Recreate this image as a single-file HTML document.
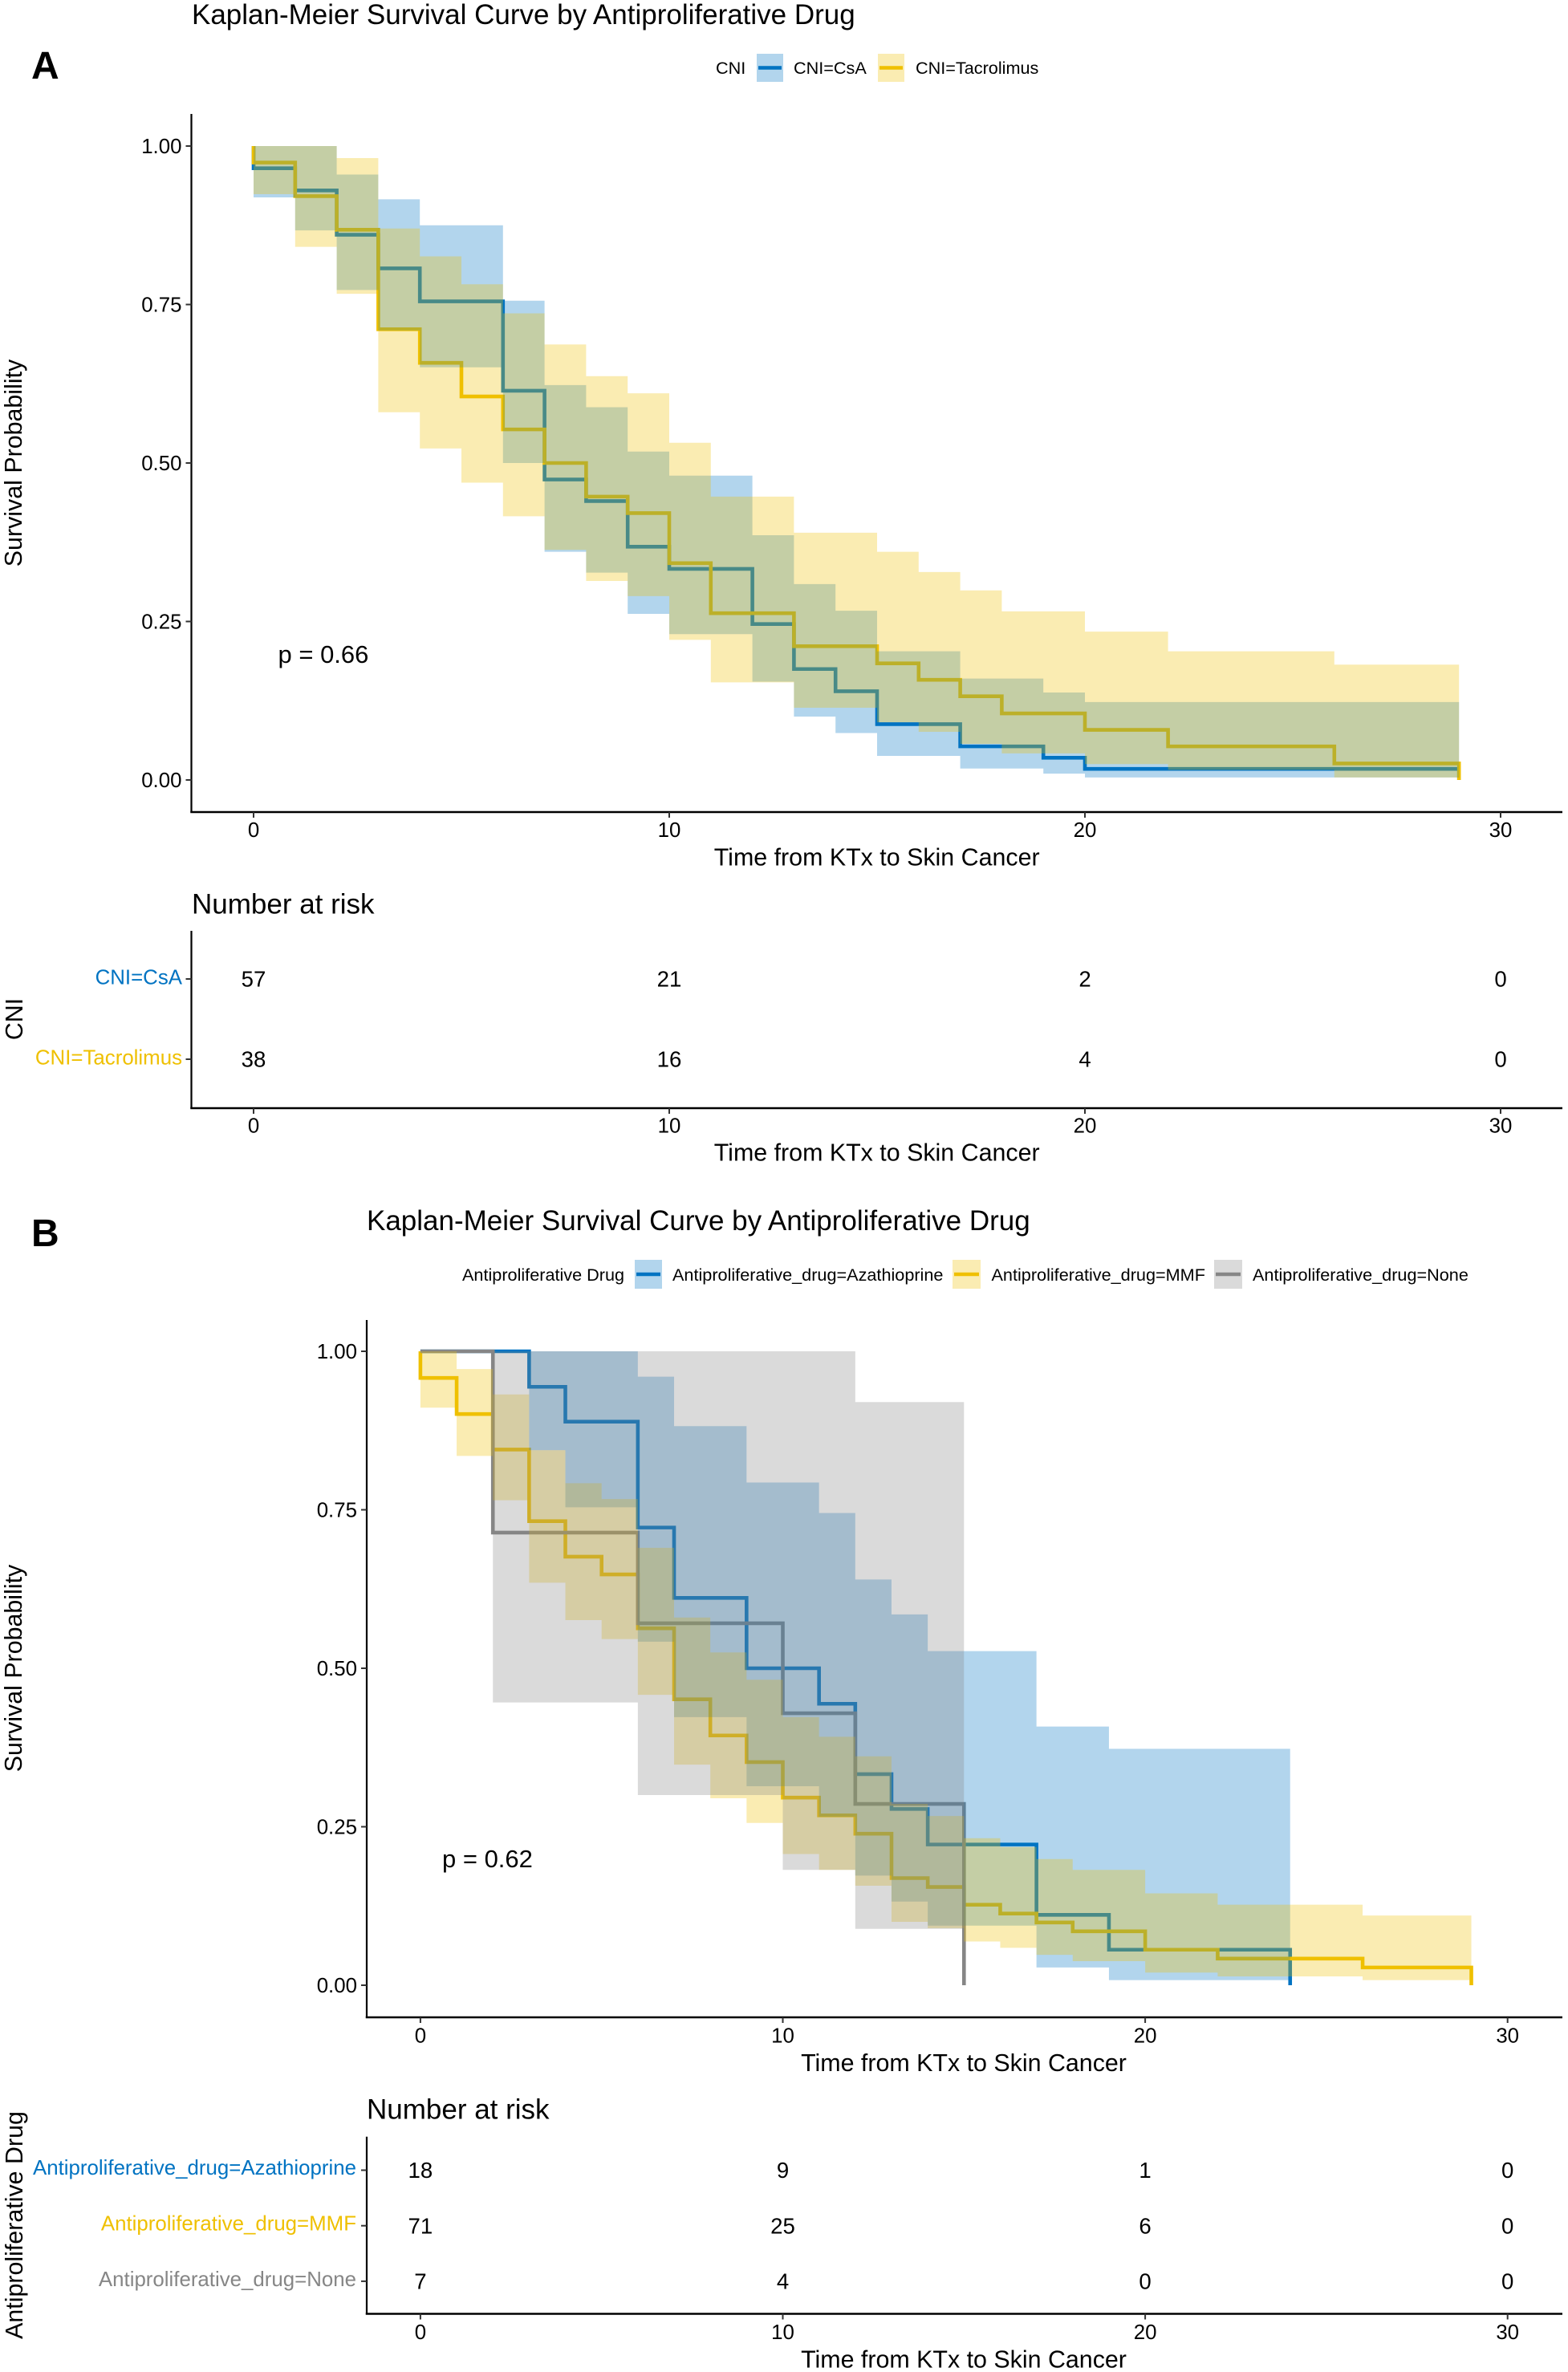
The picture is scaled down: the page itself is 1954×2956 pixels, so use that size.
<!DOCTYPE html>
<html lang="en">
<head>
<meta charset="utf-8">
<title>Kaplan-Meier Survival Curves</title>
<style>
html,body{margin:0;padding:0;background:#fff;}
svg{display:block;font-family:"Liberation Sans",Arial,sans-serif;fill:#000;}
.title{font-size:35px;}
.axis-title{font-size:30.4px;}
.tick{font-size:25.85px;}
.legend{font-size:21.65px;}
.panel{font-size:48px;font-weight:bold;}
.pval{font-size:31px;}
.risk{font-size:27.6px;}
</style>
</head>
<body>
<svg id="figure" width="1954" height="2956" viewBox="0 0 1954 2956" xmlns="http://www.w3.org/2000/svg">
  <rect width="1954" height="2956" fill="#fff"/>

  <g id="panel-a">
    <text class="panel" x="39" y="98">A</text>
    <text class="title" x="239" y="30">Kaplan-Meier Survival Curve by Antiproliferative Drug</text>
    <g>
      <text class="legend" x="892" y="92">CNI</text>
      <rect x="943" y="67" width="33" height="35" fill="#0073C2" fill-opacity="0.3"/>
      <line x1="945" x2="974" y1="84.5" y2="84.5" stroke="#0073C2" stroke-width="4.6"/>
      <text class="legend" x="989" y="92">CNI=CsA</text>
      <rect x="1094" y="67" width="33" height="35" fill="#EFC000" fill-opacity="0.3"/>
      <line x1="1096" x2="1125" y1="84.5" y2="84.5" stroke="#EFC000" stroke-width="4.6"/>
      <text class="legend" x="1141" y="92">CNI=Tacrolimus</text>
    </g>
    <g id="plot-a"></g>
    <text class="axis-title" x="1092.7" y="1078.3" text-anchor="middle">Time from KTx to Skin Cancer</text>
    <text class="axis-title" transform="translate(27,577) rotate(-90)" text-anchor="middle">Survival Probability</text>
    <text class="pval" x="346.5" y="826">p = 0.66</text>

    <text class="title" x="239" y="1138.3">Number at risk</text>
    <g id="risk-a"></g>
    <text class="tick" x="227" y="1226.7" text-anchor="end" style="fill:#0073C2">CNI=CsA</text>
    <text class="tick" x="227" y="1326.7" text-anchor="end" style="fill:#EFC000">CNI=Tacrolimus</text>
    <text class="axis-title" x="1092.7" y="1446.7" text-anchor="middle">Time from KTx to Skin Cancer</text>
    <text class="axis-title" transform="translate(28,1270) rotate(-90)" text-anchor="middle">CNI</text>
  </g>

  <g id="panel-b">
    <text class="panel" x="39" y="1553">B</text>
    <text class="title" x="457" y="1533">Kaplan-Meier Survival Curve by Antiproliferative Drug</text>
    <g>
      <text class="legend" x="576" y="1596">Antiproliferative Drug</text>
      <rect x="791" y="1570" width="34" height="36" fill="#0073C2" fill-opacity="0.3"/>
      <line x1="793" x2="823" y1="1588" y2="1588" stroke="#0073C2" stroke-width="4.6"/>
      <text class="legend" x="838" y="1596">Antiproliferative_drug=Azathioprine</text>
      <rect x="1187" y="1570" width="35" height="36" fill="#EFC000" fill-opacity="0.3"/>
      <line x1="1189" x2="1220" y1="1588" y2="1588" stroke="#EFC000" stroke-width="4.6"/>
      <text class="legend" x="1235.5" y="1596">Antiproliferative_drug=MMF</text>
      <rect x="1513" y="1570" width="35" height="36" fill="#868686" fill-opacity="0.3"/>
      <line x1="1515" x2="1546" y1="1588" y2="1588" stroke="#868686" stroke-width="4.6"/>
      <text class="legend" x="1561" y="1596">Antiproliferative_drug=None</text>
    </g>
    <g id="plot-b"></g>
    <text class="axis-title" x="1201" y="2581" text-anchor="middle">Time from KTx to Skin Cancer</text>
    <text class="axis-title" transform="translate(27,2079) rotate(-90)" text-anchor="middle">Survival Probability</text>
    <text class="pval" x="551" y="2327">p = 0.62</text>

    <text class="title" x="457" y="2640.7">Number at risk</text>
    <g id="risk-b"></g>
    <text class="tick" x="444" y="2710" text-anchor="end" style="fill:#0073C2">Antiproliferative_drug=Azathioprine</text>
    <text class="tick" x="444" y="2779.5" text-anchor="end" style="fill:#EFC000">Antiproliferative_drug=MMF</text>
    <text class="tick" x="444" y="2849" text-anchor="end" style="fill:#868686">Antiproliferative_drug=None</text>
    <text class="axis-title" x="1201" y="2950.3" text-anchor="middle">Time from KTx to Skin Cancer</text>
    <text class="axis-title" transform="translate(28,2773) rotate(-90)" text-anchor="middle">Antiproliferative Drug</text>
  </g>
</svg>

<script>
// ---------- Tick values ----------
const xTickValues = [0, 10, 20, 30];
const xTickLabels = ['0', '10', '20', '30'];
const yTickValues = [0, 0.25, 0.5, 0.75, 1];
const yTickLabels = ['0.00', '0.25', '0.50', '0.75', '1.00'];

// ---------- Panel A: CNI ----------
const csaTime  = [0,1,2,3,4,6,7,8,9,10,12,13,14,15,17,19,20,29];
const csaSurv  = [.965,.93,.86,.807,.755,.614,.474,.44,.368,.333,.246,.175,.14,.088,.053,.035,.0175,0];
const csaUpper = [1,1,.955,.916,.875,.756,.623,.588,.518,.48,.386,.309,.267,.203,.16,.138,.123];
const csaLower = [.919,.867,.773,.709,.651,.5,.36,.327,.262,.23,.155,.1,.074,.038,.018,.01,.004];

const tacTime  = [0,1,2,3,4,5,6,7,8,9,10,11,13,15,16,17,18,20,22,26,29];
const tacSurv  = [.974,.921,.868,.711,.658,.605,.553,.5,.447,.421,.342,.263,.211,.184,.158,.132,.105,.079,.053,.026,0];
const tacUpper = [1,1,.981,.87,.826,.782,.736,.687,.637,.61,.532,.447,.39,.36,.328,.299,.266,.234,.203,.182];
const tacLower = [.924,.841,.767,.58,.523,.469,.416,.363,.314,.29,.221,.154,.114,.091,.076,.057,.042,.025,.016,.004];

const csaRisk = [57, 21, 2, 0];
const tacRisk = [38, 16, 4, 0];

// ---------- Panel B: antiproliferative drug ----------
const azaTime  = [0,3,4,6,7,9,11,12,13,14,17,19,24];
const azaSurv  = [1,.944,.889,.722,.611,.5,.444,.333,.278,.222,.111,.056,0];
const azaUpper = [null,1,1,.96,.882,.793,.745,.64,.585,.527,.408,.373];
const azaLower = [null,.844,.754,.542,.423,.314,.266,.173,.132,.094,.028,.008];

const mmfTime  = [0,1,2,3,4,5,6,7,8,9,10,11,12,13,14,15,16,17,18,20,22,26,29];
const mmfSurv  = [.958,.901,.845,.732,.676,.648,.563,.451,.394,.352,.296,.268,.239,.169,.155,.127,.113,.099,.085,.056,.042,.028,0];
const mmfUpper = [1,.972,.932,.844,.792,.767,.69,.58,.525,.482,.423,.392,.361,.286,.267,.232,.218,.199,.182,.145,.127,.11];
const mmfLower = [.911,.835,.765,.635,.576,.546,.458,.348,.295,.256,.207,.182,.157,.1,.09,.069,.059,.048,.038,.02,.014,.008];

const noneTime  = [0,2,6,10,12,15];
const noneSurv  = [1,.714,.571,.429,.286,0];
const noneUpper = [null,1,1,1,.92];
const noneLower = [null,.446,.3,.182,.089];

const azaRisk  = [18, 9, 1, 0];
const mmfRisk  = [71, 25, 6, 0];
const noneRisk = [7, 4, 0, 0];

// ---------- Axis functions ----------
const xA = t => 316 + t * 51.8;
const yA = v => 972 - v * 790;
const xB = t => 523.9 + t * 45.16;
const yB = v => 2474 - v * 790;
const rowA = i => 1220 + i * 100;
const rowB = i => 2704.5 + i * 69.2;

const SVGNS = 'http://www.w3.org/2000/svg';
function mk(parent, tag, attrs, text) {
  const el = document.createElementNS(SVGNS, tag);
  for (const k in attrs) el.setAttribute(k, attrs[k]);
  if (text !== undefined) el.textContent = text;
  parent.appendChild(el);
  return el;
}

function stepPath(time, surv, x, y) {
  let d = 'M' + x(time[0]) + ' ' + y(1);
  for (let i = 0; i < surv.length; i++) {
    d += 'V' + y(surv[i]);
    if (i + 1 < time.length) d += 'H' + x(time[i + 1]);
  }
  return d;
}

function ribbonPath(time, upper, lower, x, y) {
  let top = '', bottom = '', started = false;
  for (let i = 0; i < upper.length; i++) {
    if (upper[i] === null) continue;
    top += (started ? 'L' : 'M') + x(time[i]) + ' ' + y(upper[i]) + 'L' + x(time[i + 1]) + ' ' + y(upper[i]);
    started = true;
  }
  for (let i = upper.length - 1; i >= 0; i--) {
    if (lower[i] === null) continue;
    bottom += 'L' + x(time[i + 1]) + ' ' + y(lower[i]) + 'L' + x(time[i]) + ' ' + y(lower[i]);
  }
  return top + bottom + 'Z';
}

function drawCurve(group, name, color, time, surv, x, y) {
  const line = mk(group, 'path', { d: stepPath(time, surv, x, y), fill: 'none', stroke: color, 'stroke-width': 4.6 });
  
  
}

function drawRibbon(group, name, color, time, upper, lower, x, y) {
  const band = mk(group, 'path', { d: ribbonPath(time, upper, lower, x, y), fill: color, 'fill-opacity': 0.3, stroke: 'none' });
  
  
}

function drawXAxis(group, prefix, x, axisY, left, labelY) {
  const axis = mk(group, 'line', { x1: left - 1.25, x2: 1947, y1: axisY, y2: axisY, stroke: '#000', 'stroke-width': 2.6 });
  
  
  xTickValues.forEach((t, i) => {
    const tick = mk(group, 'line', { x1: x(t), x2: x(t), y1: axisY, y2: axisY + 7, stroke: '#333', 'stroke-width': 2 });
    
    
    const label = mk(group, 'text', { x: x(t), y: labelY, 'text-anchor': 'middle', class: 'tick' }, xTickLabels[i]);
    
    
  });
}

function drawYLine(group, prefix, left, top, bottom) {
  const axis = mk(group, 'line', { x1: left, x2: left, y1: top, y2: bottom, stroke: '#000', 'stroke-width': 2.2 });
  
  
}

function drawYTicks(group, prefix, y, left) {
  yTickValues.forEach((v, i) => {
    const tick = mk(group, 'line', { x1: left - 7, x2: left, y1: y(v), y2: y(v), stroke: '#333', 'stroke-width': 2 });
    
    
    const label = mk(group, 'text', { x: left - 12, y: y(v) + 9, 'text-anchor': 'end', class: 'tick' }, yTickLabels[i]);
    
    
  });
}

function drawRiskRow(group, name, values, rowIndex, x, row, left) {
  const tick = mk(group, 'line', { x1: left - 7, x2: left, y1: row(rowIndex), y2: row(rowIndex), stroke: '#333', 'stroke-width': 2 });
  
  
  values.forEach((n, i) => {
    const cell = mk(group, 'text', { x: x(xTickValues[i]), y: row(rowIndex) + 9.6, 'text-anchor': 'middle', class: 'risk' }, String(n));
    
    
  });
}

const BLUE = '#0073C2', YELLOW = '#EFC000', GREY = '#868686';

// Panel A survival plot: lines first, ribbons over them
const plotA = document.getElementById('plot-a');
drawCurve(plotA, 'csa', BLUE, csaTime, csaSurv, xA, yA);
drawCurve(plotA, 'tacrolimus', YELLOW, tacTime, tacSurv, xA, yA);
drawRibbon(plotA, 'csa', BLUE, csaTime, csaUpper, csaLower, xA, yA);
drawRibbon(plotA, 'tacrolimus', YELLOW, tacTime, tacUpper, tacLower, xA, yA);
drawYLine(plotA, 'plot-a', 238.5, 142, 1012);
drawYTicks(plotA, 'plot-a', yA, 238.5);
drawXAxis(plotA, 'plot-a', xA, 1012, 238.5, 1043);

// Panel A risk table
const riskA = document.getElementById('risk-a');
drawYLine(riskA, 'risk-a', 238.5, 1160, 1381);
drawXAxis(riskA, 'risk-a', xA, 1381, 238.5, 1411.7);
drawRiskRow(riskA, 'csa', csaRisk, 0, xA, rowA, 238.5);
drawRiskRow(riskA, 'tacrolimus', tacRisk, 1, xA, rowA, 238.5);

// Panel B survival plot
const plotB = document.getElementById('plot-b');
drawCurve(plotB, 'azathioprine', BLUE, azaTime, azaSurv, xB, yB);
drawCurve(plotB, 'mmf', YELLOW, mmfTime, mmfSurv, xB, yB);
drawCurve(plotB, 'none', GREY, noneTime, noneSurv, xB, yB);
drawRibbon(plotB, 'azathioprine', BLUE, azaTime, azaUpper, azaLower, xB, yB);
drawRibbon(plotB, 'mmf', YELLOW, mmfTime, mmfUpper, mmfLower, xB, yB);
drawRibbon(plotB, 'none', GREY, noneTime, noneUpper, noneLower, xB, yB);
drawYLine(plotB, 'plot-b', 457, 1645, 2514);
drawYTicks(plotB, 'plot-b', yB, 457);
drawXAxis(plotB, 'plot-b', xB, 2514, 457, 2545.5);

// Panel B risk table
const riskB = document.getElementById('risk-b');
drawYLine(riskB, 'risk-b', 457, 2662.7, 2883.5);
drawXAxis(riskB, 'risk-b', xB, 2883.5, 457, 2915);
drawRiskRow(riskB, 'azathioprine', azaRisk, 0, xB, rowB, 457);
drawRiskRow(riskB, 'mmf', mmfRisk, 1, xB, rowB, 457);
drawRiskRow(riskB, 'none', noneRisk, 2, xB, rowB, 457);
</script>
</body>
</html>
